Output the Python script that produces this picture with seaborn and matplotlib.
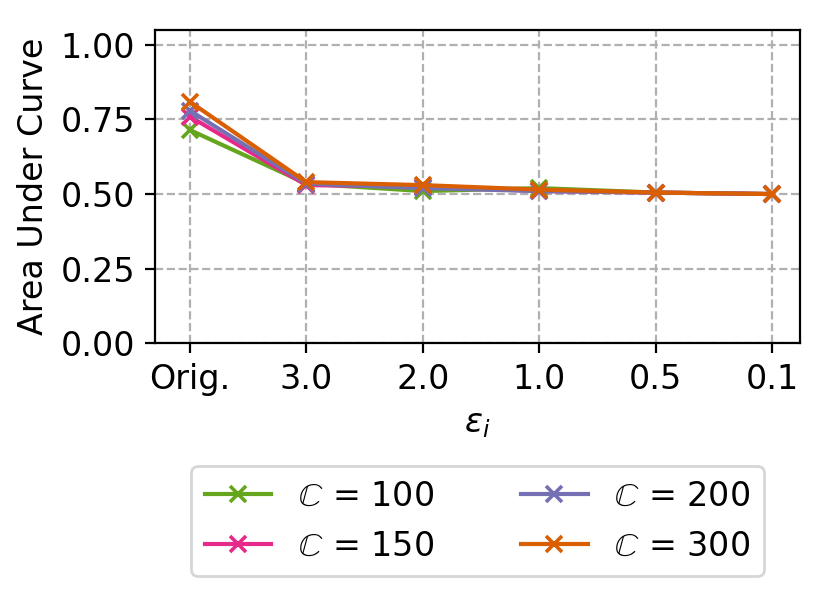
import matplotlib.pyplot as plt
import seaborn as sns

# values
eps_labels = ['Orig.', '3.0', '2.0', '1.0', '0.5', '0.1']
c_100 = [0.715, 0.535, 0.510, 0.520, 0.505, 0.500]
c_150 = [0.760, 0.530, 0.525, 0.510, 0.505, 0.500]
c_200 = [0.780, 0.535, 0.520, 0.510, 0.505, 0.500]
c_300 = [0.810, 0.540, 0.530, 0.515, 0.505, 0.500]
series_names = [r'$\mathbb{C}$ = 100', r'$\mathbb{C}$ = 150',
                r'$\mathbb{C}$ = 200', r'$\mathbb{C}$ = 300']
colors = ['#66a61e', '#e7298a', '#7570b3', '#d95f02']

plt.rcParams['font.size'] = 12
fig, ax = plt.subplots(figsize=(4.16, 3.0), dpi=200)

positions = list(range(len(eps_labels)))
for name, vals, col in zip(series_names, [c_100, c_150, c_200, c_300], colors):
    sns.lineplot(x=positions, y=vals, color=col, label=name, marker='x',
                 markersize=6, markeredgewidth=1.3, markeredgecolor=col,
                 linewidth=1.5, ax=ax)

ax.set_xticks(positions)
ax.set_xticklabels(eps_labels)
ax.set_xlim(-0.3, 5.24)
ax.set_ylim(0, 1.05)
ax.set_yticks([0, 0.25, 0.5, 0.75, 1.0])
ax.set_xlabel(r'$\varepsilon_i$')
ax.set_ylabel('Area Under Curve')
ax.grid(True, linestyle='--', color='#b0b0b0', linewidth=0.8)
ax.set_axisbelow(True)

ax.legend(loc='upper center', bbox_to_anchor=(0.5, -0.34), ncol=2,
          fontsize=12, handlelength=2.0, columnspacing=2.6)

plt.subplots_adjust(left=0.186, right=0.962, top=0.95, bottom=0.428)
plt.savefig('out.png', dpi=200)
